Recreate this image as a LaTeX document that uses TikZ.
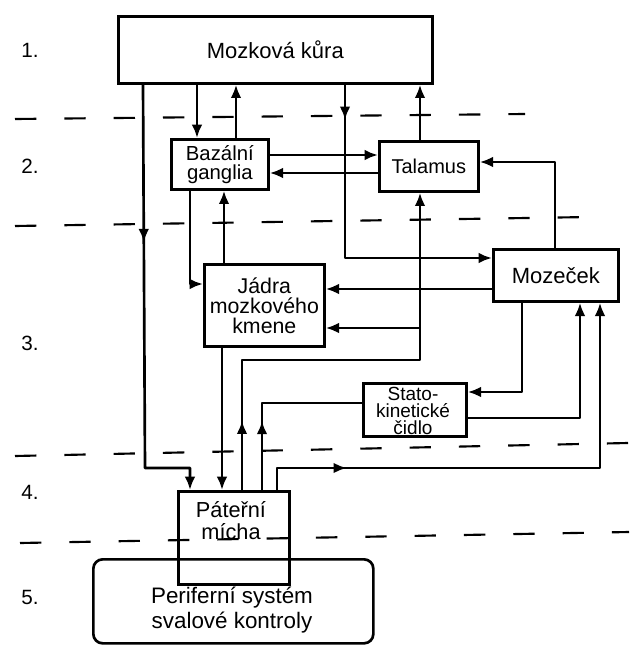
\documentclass[tikz,border=0pt]{standalone}
\usepackage{fontspec}
\setmainfont{Liberation Sans}
\usetikzlibrary{arrows.meta}
\usetikzlibrary{decorations.markings}

\begin{document}
\begin{tikzpicture}[x=0.75pt,y=-0.75pt,
  box/.style={draw,line width=2pt,inner sep=0pt,align=center,anchor=north west},
  wire/.style={line width=2pt,line join=round},
  level/.style={line width=1.6pt,dash pattern=on 16pt off 21pt},
  num/.style={font=\fontsize{15.5}{18}\selectfont},
  midarrow/.style={postaction={decorate},decoration={markings,mark=at position #1 with {\arrow{Latex[length=10pt,width=8pt]}}}},
  >={Latex[length=10pt,width=8pt]}]
\useasboundingbox (0,0) rectangle (629,645);

% level separators
\draw[level] (15,119) -- (525,114);
\draw[level] (15,226) -- (590,217);
\draw[level] (15,456) -- (628,443);
\draw[level] (20,543) -- (629,532);

% level numbers
\node[num] (n1) at (30,50) {1.};
\node[num] (n2) at (30,166) {2.};
\node[num] (n3) at (30,343) {3.};
\node[num] (n4) at (30,492) {4.};
\node[num] (n5) at (30,597) {5.};

% boxes
\node[box,minimum width=235.5pt,minimum height=50.25pt,font=\fontsize{16.5}{19}\selectfont] (kura) at (117,15) {Mozková kůra};
\node[box,minimum width=72.75pt,minimum height=37.5pt,font=\fontsize{15.25}{14.2}\selectfont] (ganglia) at (170,138) {Bazální\\ganglia};
\node[box,minimum width=74.25pt,minimum height=37.5pt,font=\fontsize{15}{18}\selectfont] (talamus) at (378,140) {Talamus};
\node[box,minimum width=90pt,minimum height=61.5pt,font=\fontsize{16}{15}\selectfont] (jadra) at (203,263) {Jádra\\mozkového\\kmene};
\node[box,minimum width=93.75pt,minimum height=39pt,font=\fontsize{16.5}{19}\selectfont] (mozecek) at (492,248) {Mozeček};
\node[box,minimum width=77.25pt,minimum height=39.75pt] (cidlo) at (362,382) {};
\node[align=center,font=\fontsize{14.25}{12.75}\selectfont] (cidlo-text) at (413,411) {Stato-\\kinetické\\čidlo};
\node[box,rounded corners=7pt,minimum width=210pt,minimum height=63pt] (periferni) at (92,558) {};
\node[align=center,font=\fontsize{16.8}{18.75}\selectfont] (periferni-text) at (232,610) {Periferní systém\\svalové kontroly};
\node[box,minimum width=83.25pt,minimum height=69.75pt] (micha) at (177,490) {};
\node[align=center,font=\fontsize{16.3}{16.5}\selectfont] (micha-text) at (231,521) {Páteřní\\mícha};

% connections
\draw[wire,midarrow=0.35,->] (kura.south -| 143,0) -- (145,468) -- (190,468) -- (micha.north -| 190,0);
\draw[wire,->] (kura.south -| 197,0) -- (ganglia.north -| 197,0);
\draw[wire,->] (ganglia.north -| 236,0) -- (kura.south -| 236,0);
\draw[wire,->] (ganglia.east |- 0,155) -- (talamus.west |- 0,155);
\draw[wire,->] (talamus.west |- 0,173) -- (ganglia.east |- 0,173);
\draw[wire,midarrow=0.11,->] (kura.south -| 345,0) -- (345,258) -- (mozecek.west |- 0,258);
\draw[wire,->] (talamus.north -| 420,0) -- (kura.south -| 420,0);
\draw[wire,->] (mozecek.north -| 555,0) -- (555,162) -- (talamus.east |- 0,162);
\draw[wire,midarrow=0.146,->] (micha.north -| 242,0) -- (242,360) -- (420,360) -- (talamus.south -| 420,0);
\coordinate (fork) at (420,328);
\draw[wire,->] (fork) -- (jadra.east |- fork);
\draw[wire,->] (mozecek.west |- 0,289) -- (jadra.east |- 0,289);
\draw[wire,->] (ganglia.south -| 190,0) -- (190,284) -- (jadra.west |- 0,284);
\draw[wire,->] (jadra.north -| 224,0) -- (ganglia.south -| 224,0);
\draw[wire,->] (jadra.south -| 222,0) -- (micha.north -| 222,0);
\draw[wire,midarrow=0.37] (micha.north -| 262,0) -- (262,403) -- (cidlo.west |- 0,403);
\draw[wire,->] (mozecek.south -| 522,0) -- (522,392) -- (cidlo.east |- 0,392);
\draw[wire,->] (cidlo.east |- 0,418) -- (580,418) -- (mozecek.south -| 580,0);
\draw[wire,midarrow=0.18,->] (micha.north -| 277,0) -- (277,468) -- (600,468) -- (mozecek.south -| 600,0);
\end{tikzpicture}
\end{document}
